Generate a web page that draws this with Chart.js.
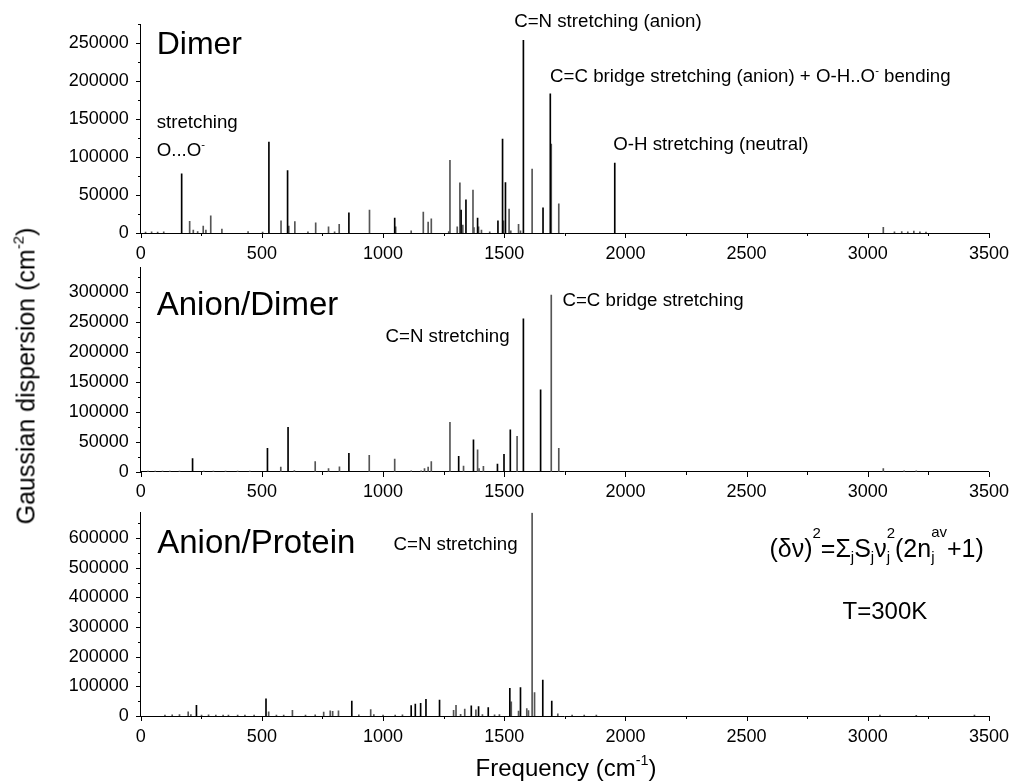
<!DOCTYPE html>
<html><head><meta charset="utf-8">
<script src="https://cdn.jsdelivr.net/npm/chart.js@4.4.1/dist/chart.umd.min.js"></script>
<style>
body{margin:0;background:#fff;width:1014px;height:783px;position:relative;overflow:hidden;font-family:"Liberation Sans",Arial,sans-serif;color:#000}
canvas{position:absolute;left:0}
.title{position:absolute;white-space:nowrap;font-size:24px;line-height:24px}
.title .sp{font-size:60%;line-height:0;vertical-align:11px}
</style></head><body>
<canvas id="c1" width="1014" height="263" style="top:0px"></canvas>
<canvas id="c2" width="1014" height="252" style="top:250px"></canvas>
<canvas id="c3" width="1014" height="288" style="top:495px"></canvas>
<div class="title" id="ytitle" style="left:26px;top:376px;font-size:25px;line-height:25px;transform:translate(-50%,-50%) rotate(-90deg)">Gaussian dispersion (cm<span class="sp">-2</span>)</div>
<div class="title" id="xtitle" style="left:566px;top:756px;transform:translateX(-50%)">Frequency (cm<span class="sp">-1</span>)</div>
<script>
// ---------- tick values ----------
const xTickValues = [0,250,500,750,1000,1250,1500,1750,2000,2250,2500,2750,3000,3250,3500];
const dimerYTicks = [0,25000,50000,75000,100000,125000,150000,175000,200000,225000,250000,275000];
const anionDimerYTicks = [0,25000,50000,75000,100000,125000,150000,175000,200000,225000,250000,275000,300000,325000];
const anionProteinYTicks = [0,50000,100000,150000,200000,250000,300000,350000,400000,450000,500000,550000,600000,650000];

// ---------- Dimer ----------
const dimerBlackFreq = [169,529,606,859,1048,1322,1342,1390,1474,1493,1505,1579,1660,1690,1956];
const dimerBlackVal  = [78000,119500,82000,26500,19500,30000,43500,19500,16000,123500,66500,253500,33000,183000,92000];
const dimerGrayFreq  = [20,45,70,95,202,217,235,258,269,289,335,443,503,579,611,636,690,722,775,800,819,944,1052,1116,1166,1186,1199,1271,1276,1306,1317,1329,1371,1375,1394,1406,1440,1497,1520,1527,1559,1567,1615,1694,1725,3064,3110,3140,3165,3190,3215,3240];
const dimerGrayVal   = [1200,1500,1200,1500,15500,4000,2000,9000,4000,22500,5000,2000,1200,16000,9000,15000,1500,13500,8000,1500,11500,30000,8000,3000,27500,14500,18500,2000,95500,8000,66000,10500,56500,7000,8000,4000,1500,16000,31500,3000,11500,3000,84000,117000,38500,7500,1500,2000,1500,2500,1500,1200];

// ---------- Anion/Dimer ----------
const anionDimerBlackFreq = [214,523,608,859,1312,1373,1472,1499,1525,1579,1650];
const anionDimerBlackVal  = [22000,39000,74000,30500,25500,53000,12500,29000,70000,255000,136500];
const anionDimerGrayFreq  = [30,60,90,120,160,260,300,350,400,450,578,634,720,775,820,943,1048,1116,1157,1171,1186,1199,1276,1332,1390,1396,1414,1553,1694,1725,3064,3150,3200];
const anionDimerGrayVal   = [1200,1200,1200,1200,1200,1200,1200,1200,1200,1200,7500,2000,17000,5000,8000,27500,21000,1500,1500,5000,7500,17000,82500,9500,36500,5000,9000,59000,294500,39000,5000,1500,1500];

// ---------- Anion/Protein ----------
const anionProteinBlackFreq = [230,517,871,1116,1133,1155,1177,1233,1364,1394,1434,1523,1567,1659,1696];
const anionProteinBlackVal  = [36000,58000,50000,35000,40500,43000,56000,54000,34000,32000,28500,93000,95500,121500,50500];
const anionProteinGrayFreq  = [100,130,160,196,207,251,280,310,340,362,400,430,468,528,560,590,626,680,720,755,782,792,816,900,949,962,1000,1050,1080,1291,1301,1320,1337,1383,1410,1460,1480,1529,1559,1593,1600,1615,1625,1721,1780,1830,1880,3050,3200,3440];
const anionProteinGrayVal   = [3000,4000,5000,14000,5000,3000,4000,3000,3000,3000,3000,3000,3000,14000,3000,3000,19500,3000,4000,13000,17500,16000,17500,4000,22000,5000,3000,3000,4000,19500,36000,6000,23000,21000,5000,4000,5000,48000,17000,25000,18000,685000,79000,7000,3000,3000,3000,3000,2000,3000];

const FONT = '"Liberation Sans", Arial, sans-serif';

function drawRich(ctx, x, y, parts, size){
  let cx = x;
  ctx.textBaseline = 'alphabetic';
  ctx.textAlign = 'left';
  ctx.fillStyle = '#000';
  for (const p of parts){
    if (p.t !== undefined){
      ctx.font = size + 'px ' + FONT;
      ctx.fillText(p.t, cx, y);
      cx += ctx.measureText(p.t).width;
    } else {
      const s = size * 0.6;
      ctx.font = s + 'px ' + FONT;
      let w = 0;
      if (p.sup){ ctx.fillText(p.sup, cx, y - (p.up || size*0.42)); w = Math.max(w, ctx.measureText(p.sup).width); }
      if (p.sub){ ctx.fillText(p.sub, cx, y + (p.down || size*0.18)); w = Math.max(w, ctx.measureText(p.sub).width); }
      cx += w;
    }
  }
}

function makePanel(id, bf, bv, gf, gv, yMax, yTicks, yMajor, padTop, xH, notes){
  const tickPlugin = {
    id: 'minorTicks',
    afterDraw(chart){
      const ctx = chart.ctx, xs = chart.scales.x, ys = chart.scales.y;
      ctx.save();
      ctx.strokeStyle = '#000'; ctx.lineWidth = 1;
      ctx.beginPath();
      xs.ticks.forEach(t => {
        const p = Math.round(xs.getPixelForValue(t.value)) + 0.5;
        const L = (t.value % 500 === 0) ? 5 : 3;
        const y0 = Math.round(xs.top);
        ctx.moveTo(p, y0); ctx.lineTo(p, y0 + L);
      });
      ys.ticks.forEach(t => {
        const p = Math.round(ys.getPixelForValue(t.value)) + 0.5;
        const L = (t.value % yMajor === 0) ? 5 : 3;
        const x0 = Math.round(ys.right);
        ctx.moveTo(x0 - L, p); ctx.lineTo(x0, p);
      });
      ctx.stroke();
      ctx.restore();
    }
  };
  const notePlugin = {
    id: 'notes',
    afterDraw(chart){
      const ctx = chart.ctx, xs = chart.scales.x, ys = chart.scales.y;
      ctx.save();
      notes.forEach(n => drawRich(ctx, xs.getPixelForValue(n.x), ys.getPixelForValue(n.y), n.parts, n.size));
      ctx.restore();
    }
  };
  return new Chart(document.getElementById(id), {
    type: 'bar',
    data: { datasets: [
      { data: bf.map((f,i)=>({x:f, y:bv[i]})), backgroundColor:'#000', barThickness:1, grouped:false, borderWidth:0, order:1 },
      { data: gf.map((f,i)=>({x:f, y:gv[i]})), backgroundColor:'#555', barThickness:1, grouped:false, borderWidth:0, order:2 }
    ]},
    options: {
      responsive:false, animation:false, devicePixelRatio:1,
      layout:{ padding:{ top:padTop, left:0, right:23.3, bottom:0 } },
      plugins:{ legend:{display:false}, tooltip:{enabled:false} },
      scales:{
        x:{ type:'linear', min:0, max:3500, offset:false,
            afterBuildTicks: s => { s.ticks = xTickValues.map(v => ({value:v})); },
            afterFit: s => { s.height = xH; },
            grid:{ display:false, drawTicks:true, tickLength:5 },
            border:{ display:true, color:'#000', width:1 },
            ticks:{ autoSkip:false, maxRotation:0, minRotation:0, padding:5, color:'#000', font:{family:FONT, size:18},
                    callback: v => (v % 500 === 0 ? String(v) : '') } },
        y:{ type:'linear', min:0, max:yMax,
            afterBuildTicks: s => { s.ticks = yTicks.map(v => ({value:v})); },
            afterFit: s => { s.width = 140.7; },
            grid:{ display:false, drawTicks:true, tickLength:5 },
            border:{ display:true, color:'#000', width:1 },
            ticks:{ autoSkip:false, padding:7, color:'#000', font:{family:FONT, size:18},
                    callback: v => (v % yMajor === 0 ? String(v) : '') } }
      }
    },
    plugins:[tickPlugin, notePlugin]
  });
}

const ann = 18.7;
makePanel('c1', dimerBlackFreq, dimerBlackVal, dimerGrayFreq, dimerGrayVal, 275000, dimerYTicks, 50000, 24, 30, [
  {x:66, y:235500, size:32, parts:[{t:'Dimer'}]},
  {x:66, y:137800, size:ann, parts:[{t:'stretching'}]},
  {x:66, y:101300, size:ann, parts:[{t:'O...O'},{sup:'-'}]},
  {x:1541, y:270700, size:ann, parts:[{t:'C=N stretching (anion)'}]},
  {x:1689, y:198300, size:ann, parts:[{t:'C=C bridge stretching (anion) + O-H..O'},{sup:'-'},{t:' bending'}]},
  {x:1950, y:109200, size:ann, parts:[{t:'O-H stretching (neutral)'}]}
]);
makePanel('c2', anionDimerBlackFreq, anionDimerBlackVal, anionDimerGrayFreq, anionDimerGrayVal, 340000, anionDimerYTicks, 50000, 13.3, 30.3, [
  {x:66, y:261000, size:33, parts:[{t:'Anion/Dimer'}]},
  {x:1010, y:216000, size:ann, parts:[{t:'C=N stretching'}]},
  {x:1740, y:275600, size:ann, parts:[{t:'C=C bridge stretching'}]}
]);
makePanel('c3', anionProteinBlackFreq, anionProteinBlackVal, anionProteinGrayFreq, anionProteinGrayVal, 685000, anionProteinYTicks, 100000, 13.3, 67, [
  {x:68, y:548400, size:33, parts:[{t:'Anion/Protein'}]},
  {x:1043, y:559200, size:ann, parts:[{t:'C=N stretching'}]},
  {x:2594, y:535000, size:25, parts:[{t:'(δν)'},{sup:'2',up:19},{t:'=Σ'},{sub:'j',down:5},{t:'S'},{sub:'j',down:5},{t:'ν'},{sub:'j',down:5,sup:'2',up:19},{t:'(2n'},{sub:'j',down:5,sup:'av',up:20},{t:'+1)'}]},
  {x:2896, y:326600, size:24, parts:[{t:'T=300K'}]}
]);
</script>
</body></html>
